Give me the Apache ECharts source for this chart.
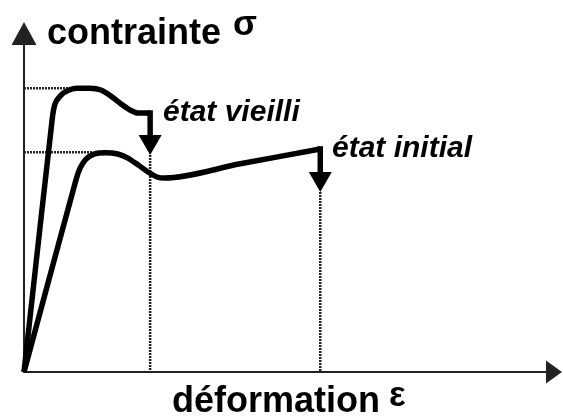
<!DOCTYPE html>
<html><head><meta charset="utf-8">
<script src="https://cdn.jsdelivr.net/npm/echarts@6/dist/echarts.min.js"></script>
<style>html,body{margin:0;padding:0;background:#fff}#c{width:563px;height:416px}</style>
</head><body><div id="c"></div>
<script>
// Schematic stress-strain curves (arbitrary units, axis range 0..100)
const agedStrain   = [0, 5.3, 5.85, 6.8, 8.1, 10.0, 12.45, 14.5, 16.4, 18.3, 20.0, 21.5, 23.8];
const agedStress   = [0, 74.4, 79.2, 81.5, 83.0, 83.8, 83.8, 83.3, 81.5, 79.2, 77.4, 76.5, 76.5];
const initStrain   = [0, 9.8, 10.6, 11.7, 13.2, 15.5, 17.7, 19.6, 21.5, 23.4, 25.1, 26.6, 40.8, 55.9];
const initStress   = [0, 56.7, 60.3, 62.9, 64.4, 64.8, 64.4, 63.2, 61.2, 59.1, 57.6, 57.3, 61.5, 65.9];
// arrows: strain position, start stress, tip stress
const arrowStrain  = [23.8, 55.9];
const arrowFrom    = [76.5, 65.9];
const arrowTo      = [64.1, 53.2];
// dotted reference lines to the y axis (peak stresses)
const peakStress   = [83.8, 64.9];
const peakStrainEnd= [8.3, 13.0];
// texts
const yName = 'contrainte', ySym = 'σ';
const xName = 'déformation', xSym = 'ε';
const labelAged = 'état vieilli', labelInit = 'état initial';

const zip = (a, b) => a.map((v, i) => [v, b[i]]);
const dotStyle = {color: '#222', width: 2.5, type: [2, 1]};
const series = [];
series.push({type: 'line', data: zip(agedStrain, agedStress), smooth: 0.3, symbol: 'none',
  lineStyle: {color: '#000', width: 5.5, join: 'round'}, z: 5});
series.push({type: 'line', data: zip(initStrain, initStress), smooth: 0.3, symbol: 'none',
  lineStyle: {color: '#000', width: 5.5, join: 'round'}, z: 5});
arrowStrain.forEach((x, i) => {
  series.push({type: 'line', data: [[x, arrowTo[i]], [x, 0]], symbol: 'none', lineStyle: dotStyle, z: 2});
});
peakStress.forEach((y, i) => {
  series.push({type: 'line', data: [[0, y], [peakStrainEnd[i], y]], symbol: 'none', lineStyle: dotStyle, z: 2});
});
series.push({
  type: 'custom', z: 6,
  data: arrowStrain.map((x, i) => [x, arrowFrom[i], arrowTo[i]]),
  renderItem: (params, api) => {
    const p0 = api.coord([api.value(0), api.value(1)]);
    const p1 = api.coord([api.value(0), api.value(2)]);
    const hl = 20, hw = 11.5;
    return {type: 'group', children: [
      {type: 'line', shape: {x1: p0[0], y1: p0[1] - 2.75, x2: p1[0], y2: p1[1] - hl + 2},
       style: {stroke: '#000', lineWidth: 5.5}},
      {type: 'polygon', shape: {points: [[p1[0] - hw, p1[1] - hl], [p1[0] + hw, p1[1] - hl], [p1[0], p1[1]]]},
       style: {fill: '#000'}}
    ]};
  }
});

const chart = echarts.init(document.getElementById('c'));
chart.setOption({
  animation: false,
  backgroundColor: '#fff',
  grid: {left: 24, right: 9, top: 33.5, bottom: 44, containLabel: false},
  xAxis: {type: 'value', min: 0, max: 100,
    axisLine: {show: true, symbol: ['none', 'triangle'], symbolSize: [23, 16], lineStyle: {color: '#222', width: 2}},
    axisTick: {show: false}, axisLabel: {show: false}, splitLine: {show: false}},
  yAxis: {type: 'value', min: 0, max: 100,
    axisLine: {show: true, symbol: ['none', 'triangle'], symbolSize: [25, 23], lineStyle: {color: '#222', width: 2}},
    axisTick: {show: false}, axisLabel: {show: false}, splitLine: {show: false}},
  series: series,
  graphic: [
    {type: 'text', left: 47, top: 16, style: {text: yName, font: 'bold 36px "Liberation Sans"', fill: '#000'}},
    {type: 'text', left: 233, top: 8, style: {text: ySym, font: 'bold 35px "Liberation Sans"', fill: '#000'}},
    {type: 'text', left: 172, top: 384, style: {text: xName, font: 'bold 36px "Liberation Sans"', fill: '#000'}},
    {type: 'text', left: 389, top: 379, style: {text: xSym, font: 'bold 35px "Liberation Sans"', fill: '#000'}},
    {type: 'text', left: 163, top: 97.5, style: {text: labelAged, font: 'italic bold 30px "Liberation Sans"', fill: '#000'}},
    {type: 'text', left: 332, top: 133.5, style: {text: labelInit, font: 'italic bold 30px "Liberation Sans"', fill: '#000'}}
  ]
});
</script>
</body></html>
